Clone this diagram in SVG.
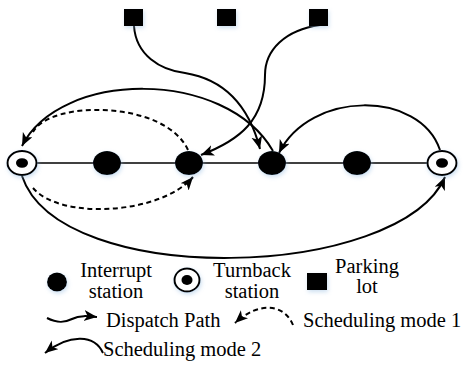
<svg xmlns="http://www.w3.org/2000/svg" width="465" height="365" viewBox="0 0 465 365">
  <defs>
    <style>
      .line { fill: none; stroke: #000; stroke-width: 1.6; }
      .arc { fill: none; stroke: #000; stroke-width: 2; }
      .dash { fill: none; stroke: #000; stroke-width: 2; stroke-dasharray: 5 3.5; }
      .station { fill: #000; }
      .ring { fill: #fff; stroke: #000; stroke-width: 2; }
      .lbl { font-size: 20.5px; fill: #000; }
      .mid { text-anchor: middle; }
    </style>
    <filter id="glow" x="-50%" y="-50%" width="200%" height="200%">
      <feGaussianBlur in="SourceAlpha" stdDeviation="2"/>
      <feOffset dx="1" dy="2" result="b"/>
      <feFlood flood-color="#8fb8e0" flood-opacity="0.45"/>
      <feComposite in2="b" operator="in"/>
      <feMerge><feMergeNode/><feMergeNode in="SourceGraphic"/></feMerge>
    </filter>
    <marker id="head" markerUnits="userSpaceOnUse" markerWidth="14" markerHeight="12" refX="13" refY="5.5" orient="auto">
      <path d="M0,0 L13,5.5 L0,11 L3.5,5.5 z" fill="#000"/>
    </marker>
  </defs>

  <!-- connectors -->
  <g id="connectors">
    <!-- track -->
    <path class="line" d="M22 163 H442"/>
    <!-- dispatch paths from parking lots -->
    <path class="arc" d="M134 26 C136 55, 160 70, 185 73 C228 80, 250 110, 260 149" marker-end="url(#head)"/>
    <path class="arc" d="M320 25 C285 30, 265 50, 265 75 C265 120, 240 140, 201 155" marker-end="url(#head)"/>
    <!-- scheduling mode 2 -->
    <path class="arc" d="M273 151 C225 68, 60 70, 22 146" marker-end="url(#head)"/>
    <path class="arc" d="M440 150 C420 90, 310 90, 279 153" marker-end="url(#head)"/>
    <path class="arc" d="M22 176 C60 290, 400 280, 445 177" marker-end="url(#head)"/>
    <!-- scheduling mode 1 -->
    <path class="dash" d="M188 150 C165 100, 50 100, 33 132"/>
    <path class="dash" d="M33 188 C60 220, 160 215, 193 177" marker-end="url(#head)"/>
  </g>

  <!-- parking lots -->
  <g id="parking-1" filter="url(#glow)"><rect class="station" x="124" y="9" width="19" height="17"/></g>
  <g id="parking-2" filter="url(#glow)"><rect class="station" x="217" y="9" width="19" height="17"/></g>
  <g id="parking-3" filter="url(#glow)"><rect class="station" x="309" y="9" width="19" height="17"/></g>

  <!-- stations -->
  <g id="turnback-left" filter="url(#glow)">
    <ellipse class="ring" cx="22" cy="163" rx="14.5" ry="12"/>
    <ellipse class="station" cx="22" cy="163" rx="6" ry="4.8"/>
  </g>
  <g id="station-2" filter="url(#glow)"><ellipse class="station" cx="107" cy="163" rx="14" ry="12"/></g>
  <g id="station-3" filter="url(#glow)"><ellipse class="station" cx="189" cy="163" rx="14" ry="12"/></g>
  <g id="station-4" filter="url(#glow)"><ellipse class="station" cx="272" cy="163" rx="14" ry="12"/></g>
  <g id="station-5" filter="url(#glow)"><ellipse class="station" cx="357" cy="163" rx="14" ry="12"/></g>
  <g id="turnback-right" filter="url(#glow)">
    <ellipse class="ring" cx="442" cy="163" rx="14.5" ry="12"/>
    <ellipse class="station" cx="442" cy="163" rx="6" ry="4.8"/>
  </g>

  <!-- legend -->
  <g font-family="'Liberation Serif', 'DejaVu Serif', serif">
    <g id="legend-interrupt">
      <ellipse class="station" cx="57" cy="282" rx="10" ry="9.5" filter="url(#glow)"/>
      <text class="lbl mid" x="116" y="277">Interrupt</text>
      <text class="lbl mid" x="116" y="298">station</text>
    </g>
    <g id="legend-turnback">
      <g filter="url(#glow)">
        <ellipse class="ring" cx="187" cy="280" rx="12.5" ry="11.5"/>
        <ellipse class="station" cx="187" cy="280" rx="5.5" ry="5"/>
      </g>
      <text class="lbl mid" x="252" y="277">Turnback</text>
      <text class="lbl mid" x="252" y="298">station</text>
    </g>
    <g id="legend-parking">
      <rect class="station" x="307" y="273" width="20" height="17" filter="url(#glow)"/>
      <text class="lbl mid" x="367" y="273">Parking</text>
      <text class="lbl mid" x="367" y="293">lot</text>
    </g>
    <g id="legend-dispatch">
      <path class="arc" d="M47 318 C57 323, 64 323, 72 319 C80 315, 88 316, 97 317" marker-end="url(#head)"/>
      <text class="lbl" x="106" y="327">Dispatch Path</text>
    </g>
    <g id="legend-mode1">
      <path class="dash" d="M293 325 C285 305, 260 300, 235 323" marker-end="url(#head)"/>
      <text class="lbl" x="303" y="327">Scheduling mode 1</text>
    </g>
    <g id="legend-mode2">
      <path class="arc" d="M103 353 C95 335, 70 333, 45 353" marker-end="url(#head)"/>
      <text class="lbl" x="103" y="356">Scheduling mode 2</text>
    </g>
  </g>
</svg>
